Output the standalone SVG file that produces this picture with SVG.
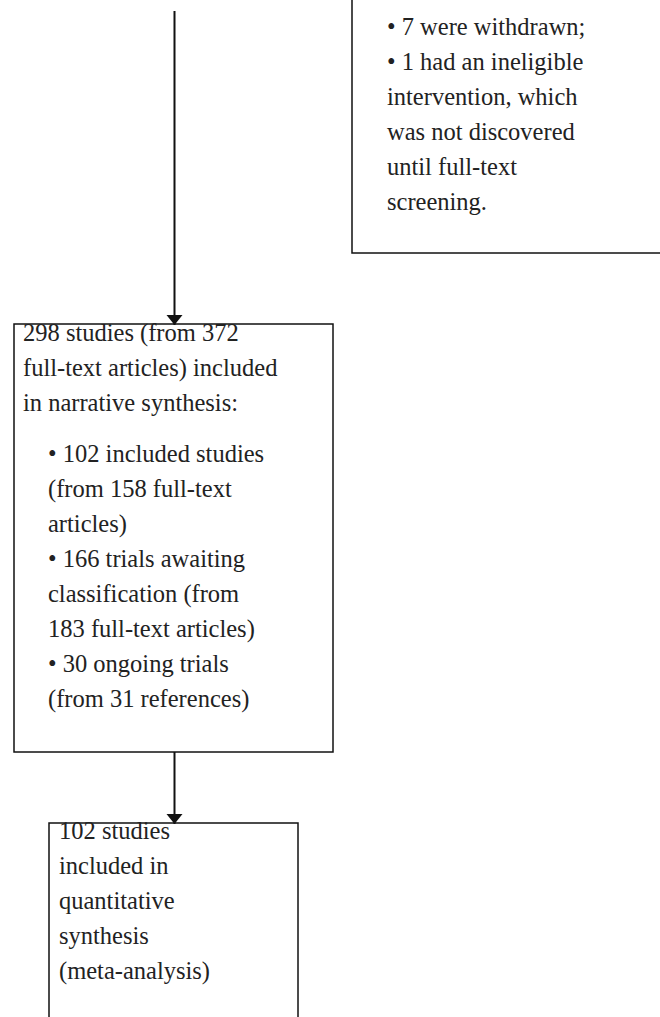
<svg xmlns="http://www.w3.org/2000/svg" width="660" height="1017" viewBox="0 0 660 1017">
<style>
.box{fill:#fff;stroke:#111;stroke-width:1.5}
.t{font-family:"Liberation Serif","Times New Roman",serif;font-size:24.5px;fill:#222}
.c{stroke:#111;stroke-width:2;fill:none}
</style>
<defs>
<marker id="ah" markerUnits="userSpaceOnUse" markerWidth="11" markerHeight="18" refX="10" refY="9" orient="auto">
<path d="M0,1 L10,9 L0,17 Z" fill="#111"/>
</marker>
</defs>
<rect width="660" height="1017" fill="#fff"/>
<g id="excluded">
<rect class="box" x="352" y="-20" width="330" height="273"/>
<text class="t" x="387" y="35">• 7 were withdrawn;</text>
<text class="t" x="387" y="70">• 1 had an ineligible</text>
<text class="t" x="387" y="105">intervention, which</text>
<text class="t" x="387" y="140">was not discovered</text>
<text class="t" x="387" y="175">until full-text</text>
<text class="t" x="387" y="210">screening.</text>
</g>
<g id="narrative">
<rect class="box" x="14" y="324" width="319" height="428"/>
<text class="t" x="23" y="341">298 studies (from 372</text>
<text class="t" x="23" y="376">full-text articles) included</text>
<text class="t" x="23" y="411">in narrative synthesis:</text>
<text class="t" x="48" y="462">• 102 included studies</text>
<text class="t" x="48" y="497">(from 158 full-text</text>
<text class="t" x="48" y="532">articles)</text>
<text class="t" x="48" y="567">• 166 trials awaiting</text>
<text class="t" x="48" y="602">classification (from</text>
<text class="t" x="48" y="637">183 full-text articles)</text>
<text class="t" x="48" y="672">• 30 ongoing trials</text>
<text class="t" x="48" y="707">(from 31 references)</text>
</g>
<g id="quantitative">
<rect class="box" x="49" y="823" width="249" height="220"/>
<text class="t" x="59" y="839">102 studies</text>
<text class="t" x="59" y="874">included in</text>
<text class="t" x="59" y="909">quantitative</text>
<text class="t" x="59" y="944">synthesis</text>
<text class="t" x="59" y="979">(meta-analysis)</text>
</g>
<g id="connectors">
<path class="c" d="M174.5,11 V325" marker-end="url(#ah)"/>
<path class="c" d="M174.5,752 V824" marker-end="url(#ah)"/>
</g>
</svg>
